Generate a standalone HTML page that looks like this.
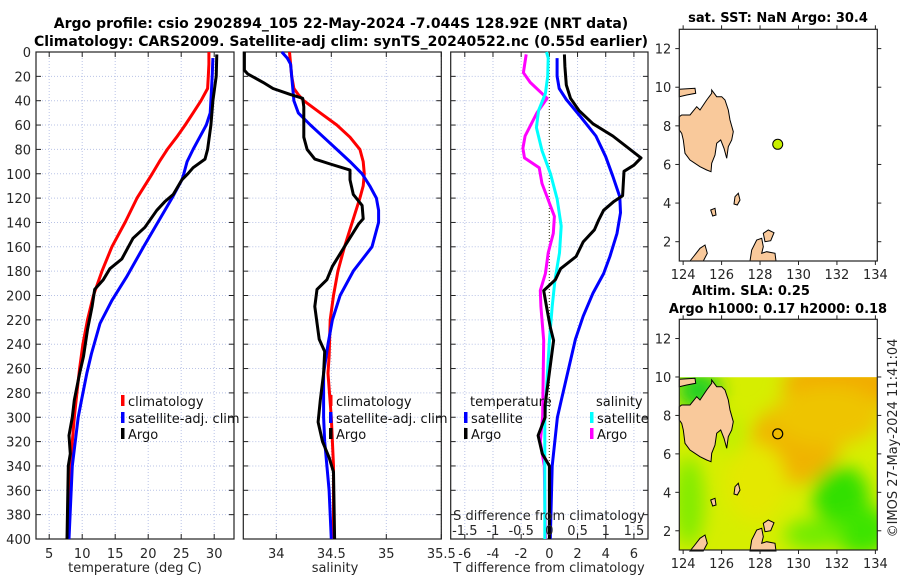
<!DOCTYPE html>
<html><head><meta charset="utf-8"><style>
html,body{margin:0;padding:0;background:#fff;}
svg text{font-family:"DejaVu Sans","Liberation Sans",sans-serif;}
</style></head><body>
<svg id="fig" xmlns="http://www.w3.org/2000/svg" width="900" height="580" viewBox="0 0 900 580">
<defs>
<filter id="blur" x="-50%" y="-50%" width="200%" height="200%"><feGaussianBlur stdDeviation="9"/></filter>
<clipPath id="clipmap2"><rect x="679.3" y="377.3" width="198" height="172.7"/></clipPath>
</defs>
<text x="341" y="28" text-anchor="middle" font-size="14" font-weight="bold">Argo profile: csio 2902894_105 22-May-2024 -7.044S 128.92E (NRT data)</text>
<text x="341" y="46" text-anchor="middle" font-size="14" font-weight="bold">Climatology: CARS2009. Satellite-adj clim: synTS_20240522.nc (0.55d earlier)</text>
<g id="panels"></g>
<g id="maps"></g>
</svg>
<script>
// ---------- data ----------
const depthTicks = [0,20,40,60,80,100,120,140,160,180,200,220,240,260,280,300,320,340,360,380,400];
const tempTicks = [5,10,15,20,25,30];
const salTicks = [34,34.5,35,35.5];
const tdiffTicks = [-6,-4,-2,0,2,4,6];
const sdiffTicks = [-1.5,-1,-0.5,0,0.5,1,1.5];
const sdiffTickLabels = ["-1.5","-1","-0.5","0","0.5","1","1.5"];

const climTDepth = [0,10,20,30,40,50,60,70,80,90,100,120,140,160,180,200,220,240,260,280,300,320,340,360,380,400];
const climTemp   = [29.2,29.2,29.1,29.0,28.0,26.8,25.6,24.3,22.9,21.7,20.6,18.3,16.5,14.5,13.0,11.7,10.8,10.1,9.6,9.2,8.8,8.5,8.2,8.0,7.9,7.8];
const satTDepth = [5,20,40,50,60,70,80,90,100,105,120,160,185,204,223,248,264,286,300,340,400];
const satTemp   = [29.8,29.7,29.5,29.4,28.8,27.8,26.8,25.9,25.4,25.1,23.6,19.3,16.7,14.5,12.7,11.4,10.7,9.9,9.4,8.5,8.0];
const argoTDepth = [2,20,40,60,80,88,95,100,105,117,123,130,144,153,170,178,187,195,209,228,250,264,286,300,315,330,340,400];
const argoTemp   = [30.4,30.3,29.8,29.5,29.0,28.6,26.8,26.0,25.1,23.8,22.5,21.3,19.5,17.7,16.0,14.2,13.2,11.9,11.5,10.8,10.2,9.6,8.8,8.5,8.0,8.2,7.9,7.7];

const climSDepth = [0,20,30,35,40,50,60,70,80,90,100,110,120,140,160,180,200,220,250,264,300,340,400];
const climSal    = [34.12,34.14,34.16,34.2,34.25,34.40,34.55,34.67,34.76,34.79,34.80,34.79,34.76,34.69,34.62,34.56,34.52,34.49,34.48,34.47,34.5,34.52,34.52];
const satSDepth = [0,5,10,20,30,40,50,60,70,80,90,100,110,120,130,140,160,180,200,220,240,264,300,320,340,360,400];
const satSal    = [34.05,34.1,34.13,34.14,34.15,34.16,34.2,34.31,34.43,34.55,34.67,34.78,34.85,34.91,34.93,34.93,34.87,34.70,34.58,34.51,34.47,34.43,34.43,34.44,34.46,34.48,34.5];
const argoSDepth = [0,15,18,25,30,35,38,45,60,70,80,88,92,97,100,105,117,126,137,141,157,176,187,195,209,236,246,264,286,304,320,333,345,400];
const argoSal    = [33.71,33.71,33.74,33.88,33.97,34.13,34.24,34.25,34.25,34.25,34.28,34.35,34.49,34.67,34.67,34.67,34.70,34.78,34.79,34.75,34.64,34.51,34.46,34.37,34.35,34.39,34.44,34.43,34.40,34.38,34.42,34.48,34.52,34.53];

const satTdDepth = [5,20,30,39,53,69,86,102,119,132,149,168,182,198,217,236,286,300,340,400];
const satTdiff   = [0.55,0.55,0.7,1.2,2.2,3.3,4.0,4.5,5.0,5.05,4.8,4.3,3.85,3.1,2.4,1.85,0.85,0.57,0.2,0.07];
const argoTdDepth = [2,12,27,38,48,59,69,87,93,98,118,123,130,138,146,156,168,178,187,196,209,226,237,290,300,315,330,340,400];
const argoTdiff   = [1.07,1.1,1.2,1.5,2.1,3.1,4.5,6.5,6.0,5.3,5.2,4.55,3.85,3.5,3.2,2.4,1.9,0.8,0.43,-0.4,-0.2,0.07,0.3,-0.3,-0.3,-0.8,-0.5,0,0];
const argoSdDepth = [2,17,25,38,50,69,79,87,95,108,119,135,149,165,182,196,209,237,300,320,340,400];
const argoSdiff   = [-0.41,-0.46,-0.34,-0.04,-0.22,-0.43,-0.47,-0.44,-0.18,-0.13,-0.04,0.09,0.07,-0.02,-0.07,-0.16,-0.15,-0.1,-0.12,-0.16,-0.09,-0.07];
const satSdDepth = [0,5,20,34,48,62,81,100,121,143,165,187,209,237,300,400];
const satSdiff   = [-0.05,-0.02,-0.03,-0.07,-0.19,-0.23,-0.13,0.02,0.14,0.21,0.18,0.1,0.05,0,-0.08,-0.08];

const mapLatTicks = [2,4,6,8,10,12];
const mapLonTicks = [124,126,128,130,132,134];
const argoLon = 128.92, argoLat = 7.044;

// ---------- helpers ----------
const NS = "http://www.w3.org/2000/svg";
function mk(tag, attrs, parent){ const e=document.createElementNS(NS,tag); for(const k in attrs) e.setAttribute(k,attrs[k]); parent.appendChild(e); return e; }
const panelsG = document.getElementById('panels');
const mapsG = document.getElementById('maps');
const TOP=52, BOT=539;
function yD(d){ return TOP + d*(BOT-TOP)/400; }

function makePanel(name, x0, x1, vmin, vmax, ticks, tickLabels, showY){
  const g = mk('g',{},panelsG);
  
  
  const xs = v => x0 + (v-vmin)*(x1-x0)/(vmax-vmin);
  // grid
  depthTicks.forEach(d=>{
    const l = mk('line',{x1:x0,x2:x1,y1:yD(d),y2:yD(d),stroke:'#b9c3e6','stroke-width':1,'stroke-dasharray':'1,2'},g);
    
    
  });
  ticks.forEach(v=>{
    const l = mk('line',{x1:xs(v),x2:xs(v),y1:TOP,y2:BOT,stroke:'#b9c3e6','stroke-width':1,'stroke-dasharray':'1,2'},g);
    
    
  });
  // ticks
  depthTicks.forEach(d=>{
    mk('line',{x1:x0,x2:x0+5,y1:yD(d),y2:yD(d),stroke:'#222','stroke-width':1},g);
    mk('line',{x1:x1-5,x2:x1,y1:yD(d),y2:yD(d),stroke:'#222','stroke-width':1},g);
    if(showY){
      const t = mk('text',{x:x0-5,y:yD(d)+5,'text-anchor':'end','font-size':13,fill:'#262626'},g);
      t.textContent = d;
      
      
    }
  });
  ticks.forEach((v,i)=>{
    mk('line',{x1:xs(v),x2:xs(v),y1:BOT,y2:BOT-5,stroke:'#222','stroke-width':1},g);
    mk('line',{x1:xs(v),x2:xs(v),y1:TOP,y2:TOP+5,stroke:'#222','stroke-width':1},g);
    const t = mk('text',{x:xs(v),y:558,'text-anchor':'middle','font-size':13,fill:'#262626'},g);
    t.textContent = tickLabels[i];
    
    
  });
  const box = mk('rect',{x:x0,y:TOP,width:x1-x0,height:BOT-TOP,fill:'none',stroke:'#222','stroke-width':1.2},g);
  
  
  return {g, xs};
}
function series(p, name, vals, depths, color, xsFn){
  const f = xsFn || p.xs;
  const pts = vals.map((v,i)=>f(v).toFixed(1)+','+yD(depths[i]).toFixed(1)).join(' ');
  const pl = mk('polyline',{points:pts,fill:'none',stroke:color,'stroke-width':3,'stroke-linejoin':'round'},p.g);
  
  
}
function legendEntry(g, name, x, y, color, label){
  const r = mk('rect',{x:x,y:y-6,width:3.5,height:11,fill:color},g);
  
  
  const t = mk('text',{x:x+7,y:y+5,'font-size':13,fill:'#111'},g);
  t.textContent = label;
  
  
}
function axisTitle(g,name,x,y,label){
  const t = mk('text',{x:x,y:y,'text-anchor':'middle','font-size':13,fill:'#262626'},g);
  t.textContent = label;
  
  
}

// ---------- temperature panel ----------
const pT = makePanel('temperature-panel', 36, 234, 3, 33, tempTicks, tempTicks.map(String), true);
series(pT,'climatology-temp-line',climTemp,climTDepth,'#ff0000');
series(pT,'satellite-temp-line',satTemp,satTDepth,'#0000ff');
series(pT,'argo-temp-line',argoTemp,argoTDepth,'#000000');
legendEntry(pT.g,'legend-climatology',121,401,'#ff0000','climatology');
legendEntry(pT.g,'legend-satellite-adj',121,418,'#0000ff','satellite-adj. clim');
legendEntry(pT.g,'legend-argo',121,434,'#000000','Argo');
axisTitle(pT.g,'temperature-axis-title',135,572,'temperature (deg C)');

// ---------- salinity panel ----------
const pS = makePanel('salinity-panel', 243.3, 441.3, 33.7, 35.5, salTicks, salTicks.map(String), false);
series(pS,'climatology-sal-line',climSal,climSDepth,'#ff0000');
series(pS,'satellite-sal-line',satSal,satSDepth,'#0000ff');
series(pS,'argo-sal-line',argoSal,argoSDepth,'#000000');
legendEntry(pS.g,'legend-climatology-sal',329,401,'#ff0000','climatology');
legendEntry(pS.g,'legend-satellite-adj-sal',329,418,'#0000ff','satellite-adj. clim');
legendEntry(pS.g,'legend-argo-sal',329,434,'#000000','Argo');
axisTitle(pS.g,'salinity-axis-title',335,572,'salinity');

// ---------- difference panel ----------
const pD = makePanel('difference-panel', 450.7, 648, -7, 7, tdiffTicks, tdiffTicks.map(String), false);
const xSd = v => pD.xs(v*4);
const zl = mk('line',{x1:pD.xs(0),x2:pD.xs(0),y1:TOP,y2:BOT,stroke:'#555533','stroke-width':1.2,'stroke-dasharray':'1,2'},pD.g);


series(pD,'argo-sal-diff-line',argoSdiff,argoSdDepth,'#ff00ff',xSd);
series(pD,'sat-sal-diff-line',satSdiff,satSdDepth,'#00ffff',xSd);
series(pD,'sat-temp-diff-line',satTdiff,satTdDepth,'#0000ff');
series(pD,'argo-temp-diff-line',argoTdiff,argoTdDepth,'#000000');
(function(){
  const t = mk('text',{x:470,y:406,'font-size':13,fill:'#111'},pD.g);
  t.textContent='temperature';
  
  
  const s = mk('text',{x:596,y:406,'font-size':13,fill:'#111'},pD.g);
  s.textContent='salinity';
  
  
})();
legendEntry(pD.g,'legend-sat-temp-diff',464,418,'#0000ff','satellite');
legendEntry(pD.g,'legend-argo-temp-diff',464,434,'#000000','Argo');
legendEntry(pD.g,'legend-sat-sal-diff',590,418,'#00ffff','satellite');
legendEntry(pD.g,'legend-argo-sal-diff',590,434,'#ff00ff','Argo');
axisTitle(pD.g,'s-diff-axis-title',549,520,'S difference from climatology');
sdiffTicks.forEach((v,i)=>{
  const t = mk('text',{x:xSd(v),y:535,'text-anchor':'middle','font-size':13,fill:'#262626'},pD.g);
  t.textContent = sdiffTickLabels[i];
  
  
});
axisTitle(pD.g,'t-diff-axis-title',549,572,'T difference from climatology');

// ---------- maps ----------
const MX0=679.3, MX1=877.3, LON0=123.8, LON1=134.1;
const lonX = lo => MX0 + (lo-LON0)*(MX1-MX0)/(LON1-LON0);
// land polygons (pixel outlines traced relative to map frame, 3x zoom coords)
const landShapes = [
 [[88,350],[95,345],[120,345],[140,320],[150,330],[170,300],[185,280],[185,270],[200,290],[215,290],[225,300],[235,330],[240,360],[250,395],[245,420],[235,440],[230,475],[222,445],[212,420],[200,430],[195,465],[185,490],[183,515],[170,510],[150,500],[120,480],[105,460],[100,420],[95,400],[88,390]],
 [[88,268],[135,265],[137,280],[110,285],[88,290]],
 [[120,783],[132,768],[150,745],[165,735],[172,760],[160,783]],
 [[300,783],[305,750],[320,720],[335,715],[340,740],[335,760],[350,755],[375,760],[378,783]],
 [[340,700],[355,690],[372,698],[362,722],[345,725]],
 [[255,590],[265,580],[270,600],[262,615],[252,612]],
 [[182,630],[195,625],[198,645],[188,648]]
];
function drawMap(name, topOff, y0, y1){
  const g = mk('g',{},mapsG);
  
  
  const latY = la => y1 - (la-1)*(y1-y0)/12;
  return {g, latY};
}
const m1 = drawMap('sst-map', 0, 29.3, 261);
const m2 = drawMap('sla-map', 290, 319.3, 550);

// SLA field background (map2)
(function(){
  const g = mk('g',{'clip-path':'url(#clipmap2)'},m2.g);
  
  
  mk('rect',{x:MX0,y:377,width:198,height:174,fill:'#d6ee00'},g);
  const fg = mk('g',{filter:'url(#blur)'},g);
  const blobs = [
    [lonX(129.8),m2.latY(6.5),45,40,'#f0b400'],
    [lonX(132.3),m2.latY(9.6),60,25,'#f2ac00'],
    [lonX(131.5),m2.latY(8.0),55,30,'#eec400'],
    [lonX(132.2),m2.latY(3.8),28,30,'#30e000'],
    [lonX(133.3),m2.latY(2.0),30,25,'#3ce400'],
    [lonX(130.8),m2.latY(1.8),30,15,'#70ec00'],
    [lonX(124.3),m2.latY(3.5),15,45,'#80ec00'],
    [lonX(124.8),m2.latY(9.3),22,20,'#20d020'],
    [lonX(126.5),m2.latY(7.0),15,20,'#c0f000'],
    [lonX(127.8),m2.latY(4.5),30,40,'#e4e800']
  ];
  blobs.forEach(b=>{
    const e = mk('ellipse',{cx:b[0],cy:b[1],rx:b[2],ry:b[3],fill:b[4]},fg);
    
    
  });
})();

[[m1,0],[m2,290]].forEach(([m,off])=>{
  landShapes.forEach(s=>{
    const pts = s.map(p=>(650+p[0]/3).toFixed(1)+','+(off+p[1]/3).toFixed(1)).join(' ');
    const pg = mk('polygon',{points:pts,fill:'#f9c99b',stroke:'#000','stroke-width':1},m.g);
    
    
  });
  const y0 = m.latY(13), y1 = m.latY(1);
  const fr = mk('rect',{x:MX0,y:y0,width:MX1-MX0,height:y1-y0,fill:'none',stroke:'#222','stroke-width':1.2},m.g);
  
  
  mapLatTicks.forEach(la=>{
    mk('line',{x1:MX0-4,x2:MX0,y1:m.latY(la),y2:m.latY(la),stroke:'#222'},m.g);
    mk('line',{x1:MX1,x2:MX1+4,y1:m.latY(la),y2:m.latY(la),stroke:'#222'},m.g);
    const t = mk('text',{x:MX0-8,y:m.latY(la)+5,'text-anchor':'end','font-size':13,fill:'#262626'},m.g);
    t.textContent = la;
    
    
  });
  mapLonTicks.forEach(lo=>{
    mk('line',{x1:lonX(lo),x2:lonX(lo),y1:y1,y2:y1+4,stroke:'#222'},m.g);
    mk('line',{x1:lonX(lo),x2:lonX(lo),y1:y0-4,y2:y0,stroke:'#222'},m.g);
    const t = mk('text',{x:lonX(lo),y:y1+18,'text-anchor':'middle','font-size':13,fill:'#262626'},m.g);
    t.textContent = lo;
    
    
  });
});
(function(){
  const d1 = mk('circle',{cx:lonX(argoLon),cy:m1.latY(argoLat),r:5,fill:'#c8f000',stroke:'#000','stroke-width':1},m1.g);
  
  
  const d2 = mk('circle',{cx:lonX(argoLon),cy:m2.latY(argoLat),r:5,fill:'none',stroke:'#000','stroke-width':1.2},m2.g);
  
  
  const t1 = mk('text',{x:778,y:22,'text-anchor':'middle','font-size':13,'font-weight':'bold'},m1.g);
  t1.textContent='sat. SST: NaN Argo: 30.4';
  
  
  const t2 = mk('text',{x:751,y:295,'text-anchor':'middle','font-size':13,'font-weight':'bold'},m2.g);
  t2.textContent='Altim. SLA: 0.25';
  
  
  const t3 = mk('text',{x:778,y:313,'text-anchor':'middle','font-size':13,'font-weight':'bold'},m2.g);
  t3.textContent='Argo h1000: 0.17 h2000: 0.18';
  
  
  const t4 = mk('text',{x:0,y:0,'text-anchor':'middle','font-size':13,fill:'#262626',transform:'translate(897,438) rotate(-90)'},mapsG);
  t4.textContent='©IMOS 27-May-2024 11:41:04';
  
  
})();
</script>
</body></html>
